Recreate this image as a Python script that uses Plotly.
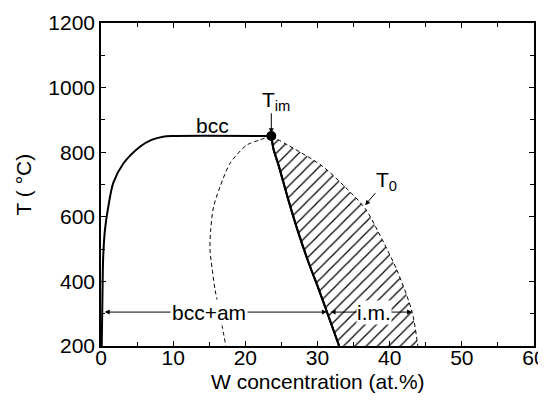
import plotly.graph_objects as go

# bcc solvus (solid, left)
bcc_x = [0.1, 0.2, 0.3, 0.55, 1.0, 1.7, 3.1, 5.4, 7.0, 8.6, 10.0, 23.6]
bcc_T = [200, 350, 475, 560, 630, 705, 765, 817, 838, 848, 850, 850]

# left dashed curve
ld_x = [23.6, 22.0, 20.2, 17.9, 16.5, 15.6, 15.2, 15.1, 15.4, 15.8, 16.3, 17.3]
ld_T = [850, 838, 822, 766, 693, 631, 560, 500, 440, 375, 320, 200]

# right solid curve (from T_im)
rs_x = [23.6, 23.9, 24.6, 25.9, 27.3, 28.9, 30.1, 31.3, 33.0]
rs_T = [850, 810, 760, 657, 554, 450, 380, 306, 200]

# T0 curve (dashed, right)
t0_x = [23.6, 25.9, 30.6, 33.8, 36.6, 38.4, 41.0, 43.1, 43.9]
t0_T = [850, 822, 758, 693, 626, 554, 435, 306, 200]

tim_x = [23.6]
tim_T = [850]

x_ticks = [0, 10, 20, 30, 40, 50, 60]
y_ticks = [200, 400, 600, 800, 1000, 1200]

FONT = "Liberation Sans, Arial, sans-serif"

fig = go.Figure()

fig.add_trace(go.Scatter(x=rs_x, y=rs_T, mode="lines",
                         line=dict(color="black", width=2, shape="spline", smoothing=0.8),
                         showlegend=False, hoverinfo="skip"))
fig.add_trace(go.Scatter(x=t0_x, y=t0_T, mode="lines",
                         line=dict(color="black", width=1, dash="4px,3px", shape="spline", smoothing=0.8),
                         fill="tonextx", fillcolor="rgba(0,0,0,0)",
                         fillpattern=dict(shape="/", size=8, solidity=0.15,
                                          fgcolor="black", bgcolor="white", fgopacity=1),
                         showlegend=False, hoverinfo="skip"))
fig.add_trace(go.Scatter(x=ld_x, y=ld_T, mode="lines",
                         line=dict(color="black", width=1, dash="4px,3px", shape="spline", smoothing=0.8),
                         showlegend=False, hoverinfo="skip"))
fig.add_trace(go.Scatter(x=bcc_x, y=bcc_T, mode="lines",
                         line=dict(color="black", width=2, shape="spline", smoothing=0.8),
                         showlegend=False, hoverinfo="skip"))
fig.add_trace(go.Scatter(x=rs_x, y=rs_T, mode="lines",
                         line=dict(color="black", width=2, shape="spline", smoothing=0.8),
                         showlegend=False, hoverinfo="skip"))
fig.add_trace(go.Scatter(x=tim_x, y=tim_T, mode="markers",
                         marker=dict(color="black", size=10),
                         showlegend=False, hoverinfo="skip"))

arrow_y = 305
ann = []
# bcc+am double arrow
ann.append(dict(x=31.3, y=arrow_y, ax=0.3, ay=arrow_y, xref="x", yref="y",
                axref="x", ayref="y", text="", showarrow=True,
                arrowhead=2, startarrowhead=2, arrowside="end+start",
                arrowsize=1, arrowwidth=1, arrowcolor="black"))
ann.append(dict(x=15.0, y=arrow_y, xref="x", yref="y", text="bcc+am",
                showarrow=False, bgcolor="white", borderpad=1,
                font=dict(size=21, color="black", family=FONT)))
# i.m. double arrow
ann.append(dict(x=43.1, y=arrow_y, ax=31.6, ay=arrow_y, xref="x", yref="y",
                axref="x", ayref="y", text="", showarrow=True,
                arrowhead=2, startarrowhead=2, arrowside="end+start",
                arrowsize=1, arrowwidth=1, arrowcolor="black"))
ann.append(dict(x=37.8, y=arrow_y, xref="x", yref="y", text="i.m.",
                showarrow=False, bgcolor="white", borderpad=0,
                font=dict(size=21, color="black", family=FONT)))
# bcc label
ann.append(dict(x=15.5, y=884, xref="x", yref="y", text="bcc", showarrow=False,
                font=dict(size=21, color="black", family=FONT)))
# T_im
ann.append(dict(x=23.6, y=859, ax=23.6, ay=925, xref="x", yref="y",
                axref="x", ayref="y", text="", showarrow=True,
                arrowhead=2, arrowsize=1, arrowwidth=1, arrowcolor="black"))
ann.append(dict(x=24.3, y=958, xref="x", yref="y", text="T<sub>im</sub>",
                showarrow=False, font=dict(size=21, color="black", family=FONT)))
# T0
ann.append(dict(x=36.6, y=636, ax=38.2, ay=678, xref="x", yref="y",
                axref="x", ayref="y", text="", showarrow=True,
                arrowhead=2, arrowsize=1, arrowwidth=1, arrowcolor="black"))
ann.append(dict(x=39.6, y=712, xref="x", yref="y", text="T<sub>0</sub>",
                showarrow=False, font=dict(size=21, color="black", family=FONT)))
# axis titles
ann.append(dict(x=0.5, y=-0.111, xref="paper", yref="paper", text="W concentration (at.%)",
                showarrow=False, yanchor="middle", xanchor="center",
                font=dict(size=21, color="black", family=FONT)))
ann.append(dict(x=-0.178, y=0.5, xref="paper", yref="paper", text="T ( °C)",
                showarrow=False, textangle=-90, yanchor="middle", xanchor="center",
                font=dict(size=21, color="black", family=FONT)))

axis_common = dict(showline=True, linecolor="black", linewidth=1.5, mirror="ticks",
                   ticks="inside", ticklen=5, tickwidth=1, tickcolor="black",
                   showgrid=False, zeroline=False, automargin=False,
                   tickfont=dict(size=21, color="black", family=FONT))

fig.update_xaxes(range=[0, 60], tickvals=x_ticks, ticktext=[str(v) for v in x_ticks],
                 minor=dict(dtick=5, ticks="inside", ticklen=4, tickcolor="black", showgrid=False),
                 ticklabelstandoff=-8,
                 **axis_common)
fig.update_yaxes(range=[200, 1200], tickvals=y_ticks, ticktext=[str(v) for v in y_ticks],
                 minor=dict(dtick=100, ticks="inside", ticklen=4, tickcolor="black", showgrid=False),
                 **axis_common)

fig.update_layout(width=546, height=412,
                  margin=dict(l=93, r=20, t=15, b=74),
                  paper_bgcolor="white", plot_bgcolor="white",
                  annotations=ann, showlegend=False)

fig.write_html("out.html")
